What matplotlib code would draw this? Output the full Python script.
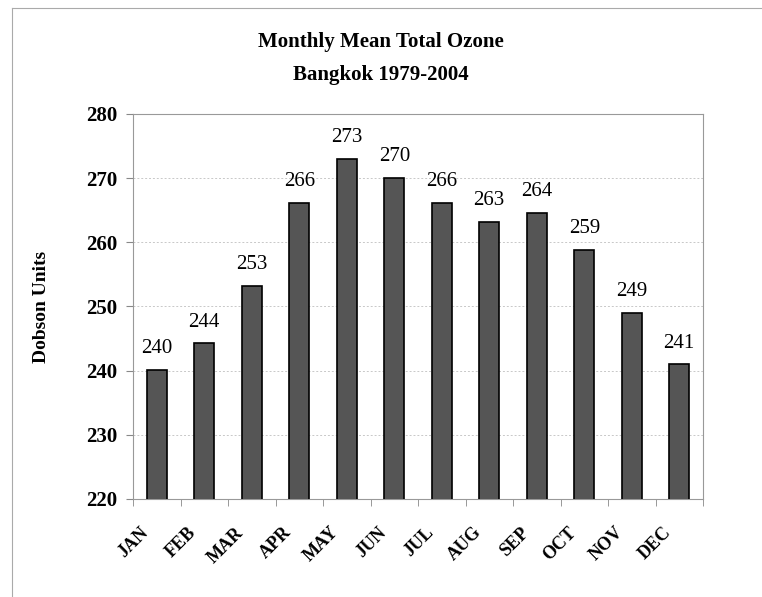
"""Monthly mean total ozone bar chart, Bangkok 1979-2004."""

import matplotlib
matplotlib.use('Agg')
import matplotlib.pyplot as plt  # pylint: disable=wrong-import-position
import matplotlib.transforms as mtransforms  # pylint: disable=wrong-import-position
import numpy as np  # pylint: disable=wrong-import-position

MONTHS = ["JAN", "FEB", "MAR", "APR", "MAY", "JUN",
          "JUL", "AUG", "SEP", "OCT", "NOV", "DEC"]
OZONE = [240.1, 244.3, 253.2, 266.2, 273.0, 270.1,
         266.2, 263.2, 264.6, 258.8, 249.0, 241.0]
LABELS = ["240", "244", "253", "266", "273", "270",
          "266", "263", "264", "259", "249", "241"]
YTICKS = [220, 230, 240, 250, 260, 270, 280]

plt.rcParams['font.family'] = ['Liberation Serif', 'DejaVu Serif']

fig = plt.figure(figsize=(7.62, 5.97), dpi=100)
ax = fig.add_axes([133 / 762, 1 - 499 / 597, (703 - 133) / 762, (499 - 114) / 597])

x = np.arange(len(MONTHS))
ax.bar(x, OZONE, width=0.42, bottom=0, color='#555555',
       edgecolor='black', linewidth=1.2, zorder=3)

for xi, val, lab in zip(x, OZONE, LABELS):
    ax.text(xi, val + 1.8, lab, ha='center', va='bottom', fontsize=15)

ax.set_xlim(-0.5, len(MONTHS) - 0.5)
ax.set_ylim(220, 280)
ax.set_yticks(YTICKS)
ax.set_yticklabels([str(t) for t in YTICKS], fontsize=15, fontweight='bold')
ax.grid(axis='y', color='#c8c8c8', linestyle=(0, (2, 2)), linewidth=0.7, zorder=0)

# category labels sit under bars, tick marks between them
ax.set_xticks(x)
ax.set_xticklabels(MONTHS, rotation=45, ha='right', rotation_mode='anchor',
                   fontsize=13, fontweight='bold')
ax.tick_params(axis='x', length=0, pad=14)
shift = mtransforms.ScaledTranslation(-12 / 72, -4 / 72, fig.dpi_scale_trans)
for lbl in ax.get_xticklabels():
    lbl.set_transform(lbl.get_transform() + shift)
ax.set_xticks(np.arange(len(MONTHS) + 1) - 0.5, minor=True)
ax.tick_params(axis='x', which='minor', length=5, color='#888888')
ax.tick_params(axis='y', length=5, color='#888888', pad=6)

for side in ['left', 'bottom', 'right', 'top']:
    ax.spines[side].set_color('#999999')
    ax.spines[side].set_linewidth(0.8)

ax.set_ylabel('Dobson Units', fontsize=14, fontweight='bold', labelpad=26)

fig.text(0.5, 1 - 42 / 597, 'Monthly Mean Total Ozone', ha='center', va='center',
         fontsize=15, fontweight='bold')
fig.text(0.5, 1 - 75 / 597, 'Bangkok 1979-2004', ha='center', va='center',
         fontsize=15, fontweight='bold')

# faint outer chart frame (top and left edges only are visible)
fig.add_artist(plt.Line2D([12 / 762, 1], [1 - 8 / 597, 1 - 8 / 597],
                          color='#aaaaaa', linewidth=0.8))
fig.add_artist(plt.Line2D([12 / 762, 12 / 762], [0, 1 - 8 / 597],
                          color='#aaaaaa', linewidth=0.8))

fig.savefig('out.png', dpi=100)
plt.close(fig)
